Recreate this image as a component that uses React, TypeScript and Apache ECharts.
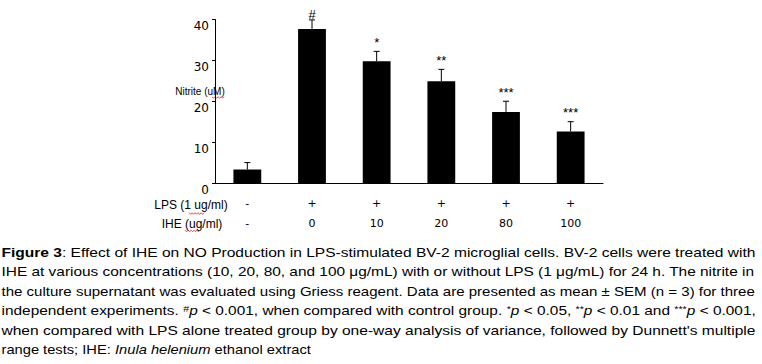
import React, { useEffect, useRef } from "react";
import * as echarts from "echarts";

const lpsRow = ["-", "+", "+", "+", "+", "+"];
const iheRow = ["-", "0", "10", "20", "80", "100"];
const nitrite = [3.3, 37.7, 29.8, 24.9, 17.4, 12.6];
const sem = [1.7, 2.2, 2.4, 2.9, 2.6, 2.4];
const marks = ["", "#", "*", "**", "***", "***"];

const captionLines = [
  "{b|Figure 3}: Effect of IHE on NO Production in LPS-stimulated BV-2 microglial cells. BV-2 cells were treated with",
  "IHE at various concentrations (10, 20, 80, and 100 μg/mL) with or without LPS (1 μg/mL) for 24 h. The nitrite in",
  "the culture supernatant was evaluated using Griess reagent. Data are presented as mean ± SEM (n = 3) for three",
  "independent experiments. {s|#}{i|p} < 0.001, when compared with control group. {s|*}{i|p} < 0.05, {s|**}{i|p} < 0.01 and {s|***}{i|p} < 0.001,",
  "when compared with LPS alone treated group by one-way analysis of variance, followed by Dunnett's multiple",
  "range tests; IHE: {i|Inula helenium} ethanol extract",
];

const FONT = "'Liberation Sans', Arial, Helvetica, sans-serif";
const NUMFONT = "'DejaVu Sans', 'Liberation Sans', sans-serif";

const fontFor: Record<string, string> = {
  n: `13px ${FONT}`,
  b: `bold 13px ${FONT}`,
  i: `italic 13px ${FONT}`,
  s: `9px ${FONT}`,
};

function measureLine(ctx: CanvasRenderingContext2D, line: string) {
  const re = /\{(\w)\|([^}]*)\}/g;
  let w = 0;
  let last = 0;
  let m: RegExpExecArray | null;
  const meas = (t: string, k: string) => {
    ctx.font = fontFor[k];
    return ctx.measureText(t).width;
  };
  while ((m = re.exec(line))) {
    w += meas(line.slice(last, m.index), "n");
    w += meas(m[2], m[1]);
    last = re.lastIndex;
  }
  w += meas(line.slice(last), "n");
  return w;
}

function squiggle(x0: number, x1: number, y: number) {
  const pts: number[][] = [];
  let up = true;
  for (let x = x0; x <= x1; x += 1.5) {
    pts.push([x, up ? y - 0.8 : y + 0.8]);
    up = !up;
  }
  return {
    type: "polyline",
    shape: { points: pts },
    style: { stroke: "#e02020", lineWidth: 0.8, fill: null },
    silent: true,
  };
}

export default function App() {
  const ref = useRef<HTMLDivElement>(null);
  useEffect(() => {
    document.body.style.margin = "0";
    const chart = echarts.init(ref.current!, undefined, { renderer: "svg" });
    const categories = lpsRow.map((l, i) => `${l}\n${iheRow[i]}`);

    const canvas = document.createElement("canvas");
    const ctx = canvas.getContext("2d")!;
    const capLeft = 1.5;
    const capRight = 755.5;
    const capTop = 252;
    const capStep = 19.5;
    const captionGraphics = captionLines.map((line, idx) => {
      const natural = measureLine(ctx, line);
      const isLast = idx === captionLines.length - 1;
      const sx = isLast ? 1.13 : (capRight - capLeft) / natural;
      return {
        type: "text",
        x: capLeft,
        y: capTop + idx * capStep,
        scaleX: sx,
        style: {
          text: line,
          verticalAlign: "middle",
          align: "left",
          fontSize: 13,
          fontFamily: FONT,
          fill: "#000",
          rich: {
            b: { fontWeight: "bold", fontSize: 13, fontFamily: FONT, fill: "#000" },
            i: { fontStyle: "italic", fontSize: 13, fontFamily: FONT, fill: "#000" },
            s: { fontSize: 9, lineHeight: 9, verticalAlign: "top", fontFamily: FONT, fill: "#000" },
          },
        },
      };
    });

    chart.setOption({
      animation: false,
      backgroundColor: "#fff",
      grid: { left: 215, right: 159, top: 19.5, bottom: 181, containLabel: false },
      xAxis: {
        type: "category",
        data: categories,
        axisLine: { lineStyle: { color: "#000", width: 1 } },
        axisTick: { inside: true, length: 3, lineStyle: { color: "#000" } },
        axisLabel: {
          margin: 10,
          lineHeight: 20,
          fontSize: 11,
          fontFamily: NUMFONT,
          color: "#000",
        },
      },
      yAxis: {
        type: "value",
        min: 0,
        max: 40,
        interval: 10,
        splitLine: { show: false },
        axisLine: { show: true, lineStyle: { color: "#000", width: 1 } },
        axisTick: { show: true, length: 3, lineStyle: { color: "#000" } },
        axisLabel: {
          margin: 6,
          color: "#000",
          formatter: (v: number) => `{z|${v}}`,
          rich: { z: { fontSize: 12, fontFamily: NUMFONT, color: "#000", padding: [13, 0, 0, 0] } },
        },
      },
      series: [
        {
          type: "bar",
          data: nitrite,
          barWidth: "43%",
          itemStyle: { color: "#000" },
        },
        {
          type: "custom",
          data: nitrite.map((v, i) => [i, v, sem[i]]),
          encode: { x: 0, y: 1 },
          z: 5,
          renderItem: (params: any, api: any) => {
            const i = api.value(0);
            const v = api.value(1);
            const e = api.value(2);
            const base = api.coord([i, v]);
            const top = api.coord([i, v + e]);
            const mk = marks[params.dataIndex];
            const off = mk === "#" ? 5 : 9;
            return {
              type: "group",
              children: [
                {
                  type: "line",
                  shape: { x1: base[0], y1: base[1], x2: top[0], y2: top[1] },
                  style: { stroke: "#000", lineWidth: 1 },
                },
                {
                  type: "line",
                  shape: { x1: top[0] - 3, y1: top[1], x2: top[0] + 3, y2: top[1] },
                  style: { stroke: "#000", lineWidth: 1 },
                },
                {
                  type: "text",
                  style: {
                    text: mk,
                    x: top[0],
                    y: top[1] - off,
                    align: "center",
                    verticalAlign: "middle",
                    fontSize: 13,
                    fontFamily: FONT,
                    fill: "#000",
                  },
                },
              ],
            };
          },
        },
      ],
      graphic: [
        {
          type: "text",
          x: 200,
          y: 91,
          style: {
            text: "Nitrite (uM)",
            align: "center",
            verticalAlign: "middle",
            fontSize: 10,
            fontFamily: FONT,
            fill: "#000",
          },
        },
        {
          type: "text",
          x: 191,
          y: 205,
          style: {
            text: "LPS (1 ug/ml)",
            align: "center",
            verticalAlign: "middle",
            fontSize: 12,
            fontFamily: FONT,
            fill: "#000",
          },
        },
        {
          type: "text",
          x: 192,
          y: 224,
          style: {
            text: "IHE (ug/ml)",
            align: "center",
            verticalAlign: "middle",
            fontSize: 12,
            fontFamily: FONT,
            fill: "#000",
          },
        },
        squiggle(212, 224, 97.5),
        squiggle(189, 205, 213.5),
        squiggle(185, 200, 231),
        ...captionGraphics,
      ],
    });
    return () => chart.dispose();
  }, []);
  return <div ref={ref} style={{ width: 762, height: 364 }} />;
}
